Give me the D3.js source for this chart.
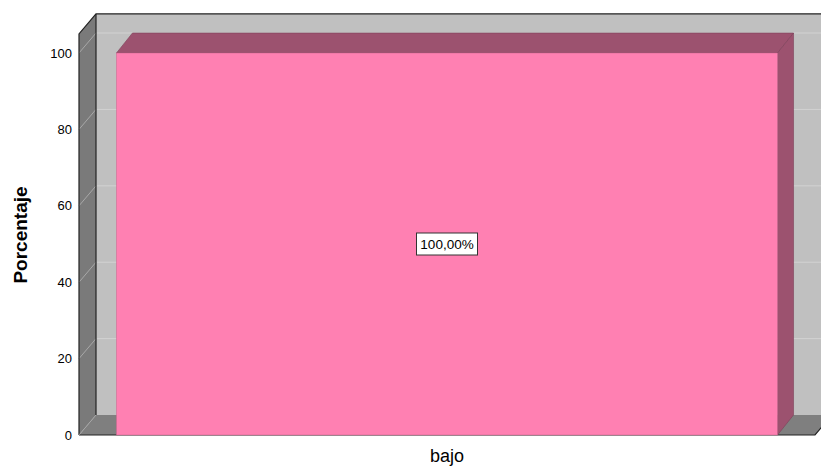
<!DOCTYPE html>
<html>
<head>
<meta charset="utf-8">
<script src="https://cdn.jsdelivr.net/npm/d3@7/dist/d3.min.js"></script>
<style>
  body { margin: 0; background: #fff; }
  text { font-family: "Liberation Sans", Arial, sans-serif; }
</style>
</head>
<body>
<div id="chart"></div>
<script>
(function(d3) {
  "use strict";

  var categories = ["bajo"];
  var values = [100];
  var labels = ["100,00%"];
  var yTicks = [0, 20, 40, 60, 80, 100];

  var width = 821, height = 468;
  // profondeur 3D
  var depth = { dx: 17, dy: -20 };
  var barDepth = { dx: 16, dy: -20 };

  var Plot = { left: 79, right: 815, top: 53, bottom: 435 };

  var y = d3.scaleLinear().domain([0, 100]).range([Plot.bottom, Plot.top]);
  var x = d3.scaleBand().domain(categories)
      .range([Plot.left, Plot.right])
      .paddingInner(0)
      .paddingOuter(0.0567);

  var yTop = y(105);

  var svg = d3.select("#chart").append("svg")
      .attr("width", width)
      .attr("height", height);

  var pts = p => p.map(d => d.join(",")).join(" ");

  // back wall
  svg.append("rect")
      .attr("x", Plot.left + depth.dx)
      .attr("y", yTop + depth.dy)
      .attr("width", width)
      .attr("height", Plot.bottom - yTop)
      .attr("fill", "#c0c0c0");

  // left wall
  svg.append("polygon")
      .attr("points", pts([[Plot.left, Plot.bottom], [Plot.left, yTop],
        [Plot.left + depth.dx, yTop + depth.dy], [Plot.left + depth.dx, Plot.bottom + depth.dy]]))
      .attr("fill", "#7a7a7a");

  // floor
  svg.append("polygon")
      .attr("points", pts([[Plot.left, Plot.bottom], [Plot.left + depth.dx, Plot.bottom + depth.dy],
        [Plot.right + depth.dx, Plot.bottom + depth.dy], [Plot.right, Plot.bottom]]))
      .attr("fill", "#7f7f7f");

  // gridlines
  var grid = svg.append("g").attr("class", "grid");
  grid.selectAll(".gback").data(yTicks.filter(d => d > 0)).enter()
      .append("line")
      .attr("x1", Plot.left + depth.dx).attr("x2", width)
      .attr("y1", d => y(d) + depth.dy).attr("y2", d => y(d) + depth.dy)
      .attr("stroke", "#d2d2d2").attr("stroke-width", 1);
  grid.selectAll(".gside").data(yTicks.filter(d => d > 0)).enter()
      .append("line")
      .attr("x1", Plot.left).attr("x2", Plot.left + depth.dx)
      .attr("y1", d => y(d)).attr("y2", d => y(d) + depth.dy)
      .attr("stroke", "#a8a8a8").attr("stroke-width", 1);

  // edges
  var edges = svg.append("g").attr("fill", "none").attr("stroke", "#222").attr("stroke-width", 1.2);
  edges.append("polyline")
      .attr("points", pts([[Plot.left, Plot.bottom], [Plot.left, yTop], [Plot.left + depth.dx, yTop + depth.dy], [width, yTop + depth.dy]]));
  edges.append("line")
      .attr("x1", Plot.left + depth.dx).attr("x2", Plot.left + depth.dx)
      .attr("y1", yTop + depth.dy).attr("y2", Plot.bottom + depth.dy);
  edges.append("polyline")
      .attr("points", pts([[Plot.left, Plot.bottom], [Plot.right, Plot.bottom], [Plot.right + depth.dx, Plot.bottom + depth.dy]]));
  edges.append("line")
      .attr("x1", Plot.left).attr("x2", Plot.left + depth.dx)
      .attr("y1", Plot.bottom).attr("y2", Plot.bottom + depth.dy)
      .attr("stroke", "#aaa").attr("stroke-width", 0.8);

  // bars
  var bars = svg.append("g").attr("class", "bars");
  var data = categories.map((c, i) => ({ cat: c, value: values[i], label: labels[i] }));

  var bar = bars.selectAll(".bar").data(data).enter().append("g").attr("class", "bar");
  bar.append("polygon")
      .attr("points", d => {
        var x0 = x(d.cat), x1 = x0 + x.bandwidth(), yv = y(d.value);
        return pts([[x0, yv], [x0 + barDepth.dx, yv + barDepth.dy], [x1 + barDepth.dx, yv + barDepth.dy], [x1, yv]]);
      })
      .attr("fill", "#9c526f").attr("stroke", "#7d4059").attr("stroke-width", 0.6);
  bar.append("polygon")
      .attr("points", d => {
        var x1 = x(d.cat) + x.bandwidth(), yv = y(d.value);
        return pts([[x1, yv], [x1 + barDepth.dx, yv + barDepth.dy], [x1 + barDepth.dx, y(0) + barDepth.dy], [x1, y(0)]]);
      })
      .attr("fill", "#9c526f").attr("stroke", "#7d4059").attr("stroke-width", 0.6);
  bar.append("rect")
      .attr("x", d => x(d.cat))
      .attr("y", d => y(d.value))
      .attr("width", x.bandwidth())
      .attr("height", d => y(0) - y(d.value))
      .attr("fill", "#ff80b2").attr("stroke", "#c8648c").attr("stroke-width", 0.5);

  // value label
  var lab = bar.append("g")
      .attr("transform", d => `translate(${x(d.cat) + x.bandwidth() / 2}, ${y(d.value / 2)})`);
  lab.append("rect")
      .attr("x", -30.5).attr("y", -11).attr("width", 61).attr("height", 22)
      .attr("fill", "#fff").attr("stroke", "#333").attr("stroke-width", 1);
  lab.append("text")
      .attr("text-anchor", "middle").attr("dy", "0.36em")
      .style("font-size", "13.5px")
      .text(d => d.label);

  // y tick labels
  svg.append("g").selectAll("text").data(yTicks).enter()
      .append("text")
      .attr("x", Plot.left - 7)
      .attr("y", d => y(d))
      .attr("dy", "0.36em")
      .attr("text-anchor", "end")
      .style("font-size", "13px")
      .text(d => d);

  // x category labels
  svg.append("g").selectAll("text").data(categories).enter()
      .append("text")
      .attr("x", d => x(d) + x.bandwidth() / 2)
      .attr("y", 456)
      .attr("dy", "0.36em")
      .attr("text-anchor", "middle")
      .style("font-size", "18px")
      .text(d => d);

  // axis title
  svg.append("text")
      .attr("transform", `translate(20, 235) rotate(-90)`)
      .attr("text-anchor", "middle")
      .attr("dy", "0.36em")
      .style("font-size", "19px")
      .style("font-weight", "bold")
      .text("Porcentaje");

})(d3);
</script>
</body>
</html>
